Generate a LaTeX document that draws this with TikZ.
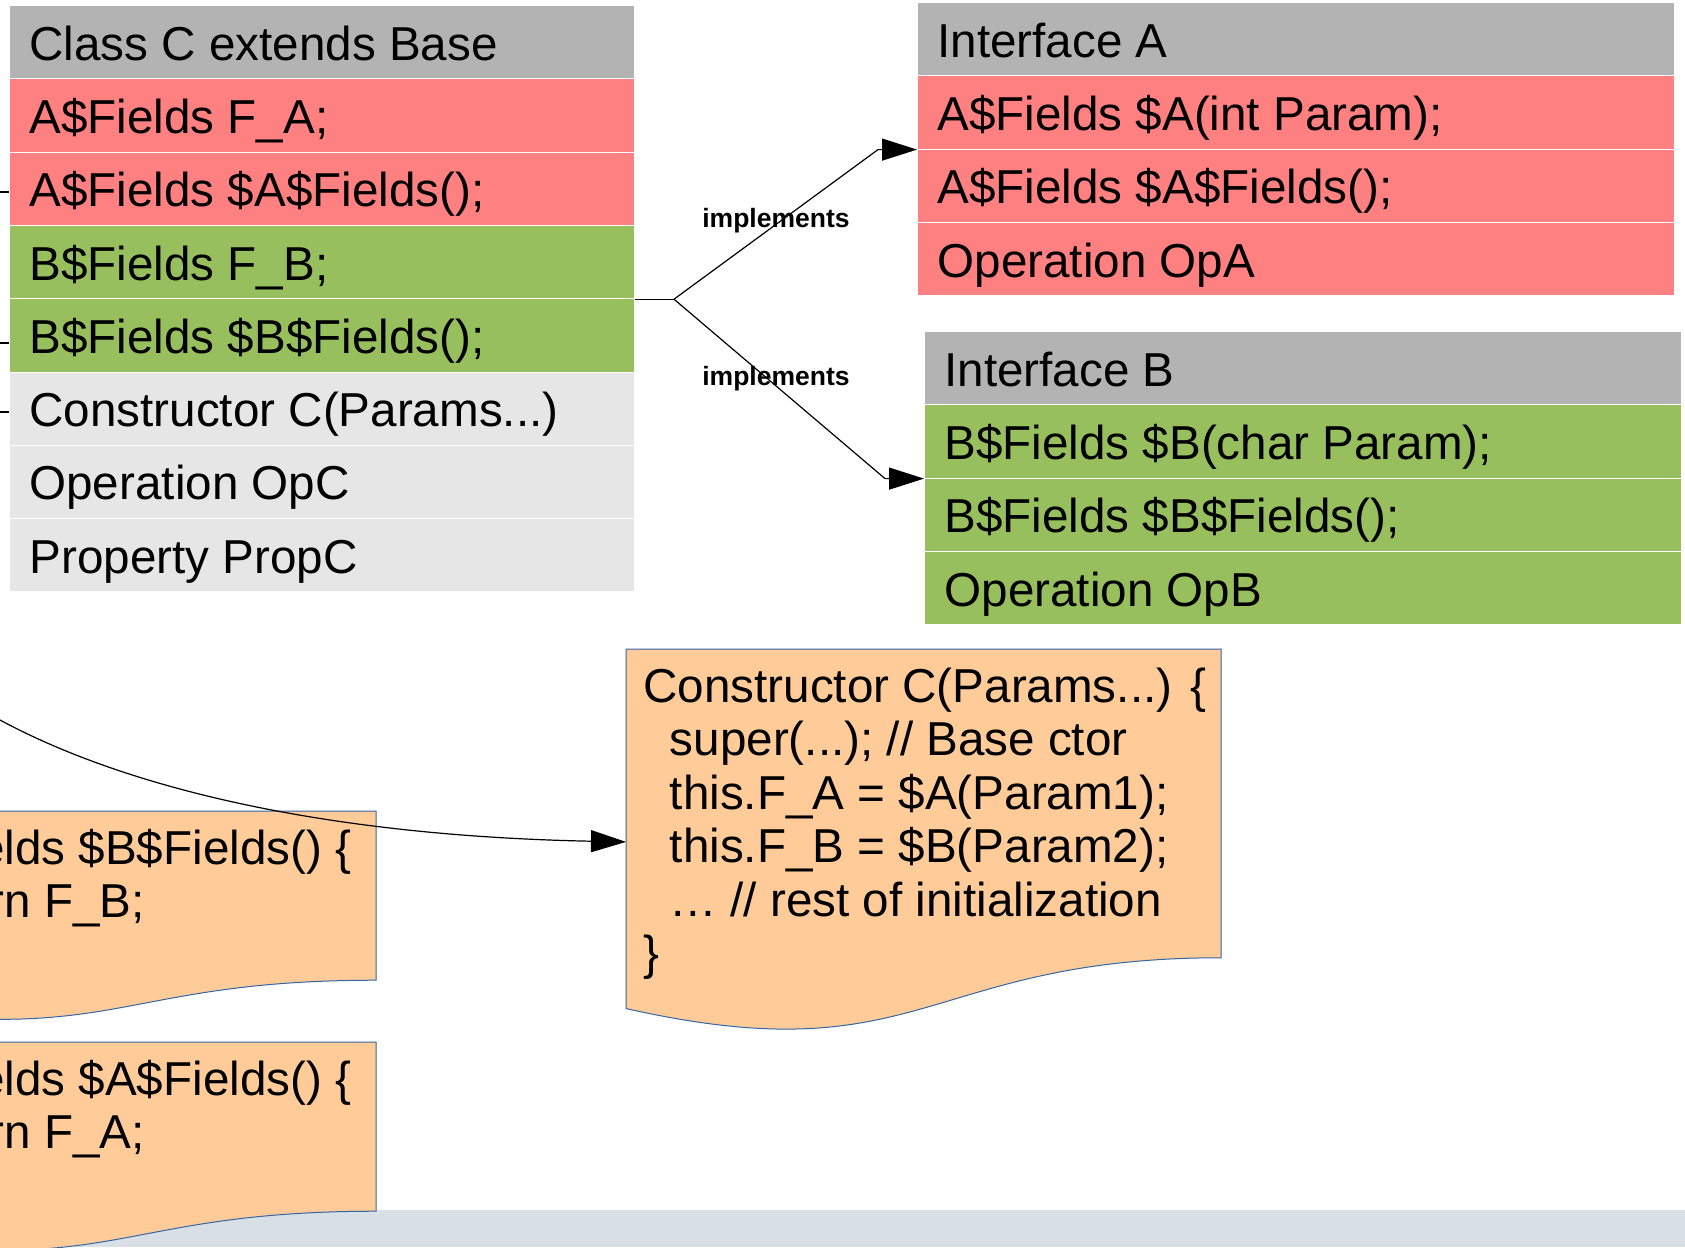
\documentclass[tikz,border=0pt]{standalone}
\usepackage{fontspec}
\setmainfont{Liberation Sans}
\usetikzlibrary{arrows.meta,calc}

\definecolor{hdrgray}{RGB}{179,179,179}
\definecolor{rowred}{RGB}{255,128,128}
\definecolor{rowgreen}{RGB}{151,191,94}
\definecolor{rowgray}{RGB}{230,230,230}
\definecolor{docfill}{RGB}{255,204,153}
\definecolor{docline}{RGB}{52,101,164}
\definecolor{bandcol}{RGB}{216,223,229}

\newcommand\cellfont{\fontsize{23.8pt}{26.75pt}\selectfont}
\newcommand\lblfont{\fontsize{13.25pt}{15pt}\selectfont\bfseries}

% document-shaped box with a wavy bottom edge: x, y (top left), width, height
\newcommand\drawdocshape[4]{%
  \path[docshape] (#1,#2) -- ({#1+#3},#2) -- ({#1+#3},{#2+0.80194*#4})
    .. controls ({#1+0.5*#3},{#2+0.80194*#4}) and ({#1+0.5*#3},{#2+1.1075*#4})
    .. (#1,{#2+0.93389*#4}) -- cycle;}

\tikzset{
  cell/.style={anchor=north west, inner xsep=10pt, inner ysep=0pt,
    minimum height=36.65pt, align=flush left, text height=18pt, text depth=0pt,
    font=\cellfont, draw=white, line width=0.5pt},
  cellC/.style={cell, text width=292.5pt},
  cellI/.style={cell, text width=358.5pt},
  hdr/.style={fill=hdrgray},
  red/.style={fill=rowred},
  grn/.style={fill=rowgreen},
  gry/.style={fill=rowgray},
  docshape/.style={fill=docfill, draw=docline, line width=0.5pt},
  docbox/.style={anchor=north west, inner sep=0pt},
  code/.style={anchor=base west, inner sep=0pt, font=\cellfont},
  conn/.style={draw=black, line width=0.6pt},
  tip/.style={-{Triangle[length=17.5pt,width=11pt]}},
  lbl/.style={anchor=base, inner sep=0pt, font=\lblfont},
}

\begin{document}
\begin{tikzpicture}[x=0.5pt,y=-0.5pt]
\clip (0,0) rectangle (1685,1247);
\fill[white] (0,0) rectangle (1685,1247);
\fill[bandcol] (0,1210) rectangle (1685,1247);

% code documents
\node[docbox, minimum width=297.5pt, minimum height=192.5pt] (ctorDoc) at (626,649) {};
\node[docbox, minimum width=256.5pt, minimum height=105.5pt] (getBDoc) at (-137,811) {};
\node[docbox, minimum width=256.5pt, minimum height=105.5pt] (getADoc) at (-137,1042) {};
\drawdocshape{626}{649}{595}{385}
\drawdocshape{-137}{811}{513}{211}
\drawdocshape{-137}{1042}{513}{211}

\node[code] (ctor1) at (643,702)    {Constructor C(Params...) \{};
\node[code] (ctor2) at (669.5,755.5) {super(...); // Base ctor};
\node[code] (ctor3) at (669.5,809)  {this.F\_A = \$A(Param1);};
\node[code] (ctor4) at (669.5,862.5) {this.F\_B = \$B(Param2);};
\node[code] (ctor5) at (669.5,916)  {… // rest of initialization};
\node[code] (ctor6) at (643,969.5)  {\}};

\node[code] (getB1) at (-120,864)    {B\$Fields \$B\$Fields() \{};
\node[code] (getB2) at (-93.5,917.5) {return F\_B;};
\node[code] (getA1) at (-120,1095)   {A\$Fields \$A\$Fields() \{};
\node[code] (getA2) at (-93.5,1148.5) {return F\_A;};

% class C
\node[cellC,hdr] (cls0) at (9,5)      {Class C extends Base};
\node[cellC,red] (cls1) at (9,78.3)   {A\$Fields F\_A;};
\node[cellC,red] (cls2) at (9,151.6)  {A\$Fields \$A\$Fields();};
\node[cellC,grn] (cls3) at (9,224.9)  {B\$Fields F\_B;};
\node[cellC,grn] (cls4) at (9,298.2)  {B\$Fields \$B\$Fields();};
\node[cellC,gry] (cls5) at (9,371.5)  {Constructor C(Params...)};
\node[cellC,gry] (cls6) at (9,444.8)  {Operation OpC};
\node[cellC,gry] (cls7) at (9,518.1)  {Property PropC};

% interface A
\node[cellI,hdr] (ia0) at (917,2)     {Interface A};
\node[cellI,red] (ia1) at (917,75.3)  {A\$Fields \$A(int Param);};
\node[cellI,red] (ia2) at (917,148.6) {A\$Fields \$A\$Fields();};
\node[cellI,red] (ia3) at (917,221.9) {Operation OpA};

% interface B
\node[cellI,hdr] (ib0) at (924,331)   {Interface B};
\node[cellI,grn] (ib1) at (924,404.3) {B\$Fields \$B(char Param);};
\node[cellI,grn] (ib2) at (924,477.6) {B\$Fields \$B\$Fields();};
\node[cellI,grn] (ib3) at (924,550.9) {Operation OpB};

% incoming links on the left edge
\coordinate (inA) at (0,192);
\coordinate (inB) at (0,343);
\coordinate (inC) at (0,412);
\draw[conn] (inA) -- (inA -| cls2.west);
\draw[conn] (inB) -- (inB -| cls4.west);
\draw[conn] (inC) -- (inC -| cls5.west);

% constructor link
\coordinate (inCtor) at (0,720);
\draw[conn,tip] (inCtor) .. controls (130,790) and (330,836) .. (ctorDoc.west);

% implements links
\coordinate (fork) at ($(cls3.south east)+(39,0)$);
\draw[conn] (cls3.south east) -- (fork);
\draw[conn,tip] (fork) -- ($(ia1.south west)+(-39,0)$) -- (ia1.south west);
\draw[conn,tip] (fork) -- ($(ib1.south west)+(-39,0)$) -- (ib1.south west);
\node[lbl] (implA) at (776,227) {implements};
\node[lbl] (implB) at (776,385) {implements};
\end{tikzpicture}
\end{document}
